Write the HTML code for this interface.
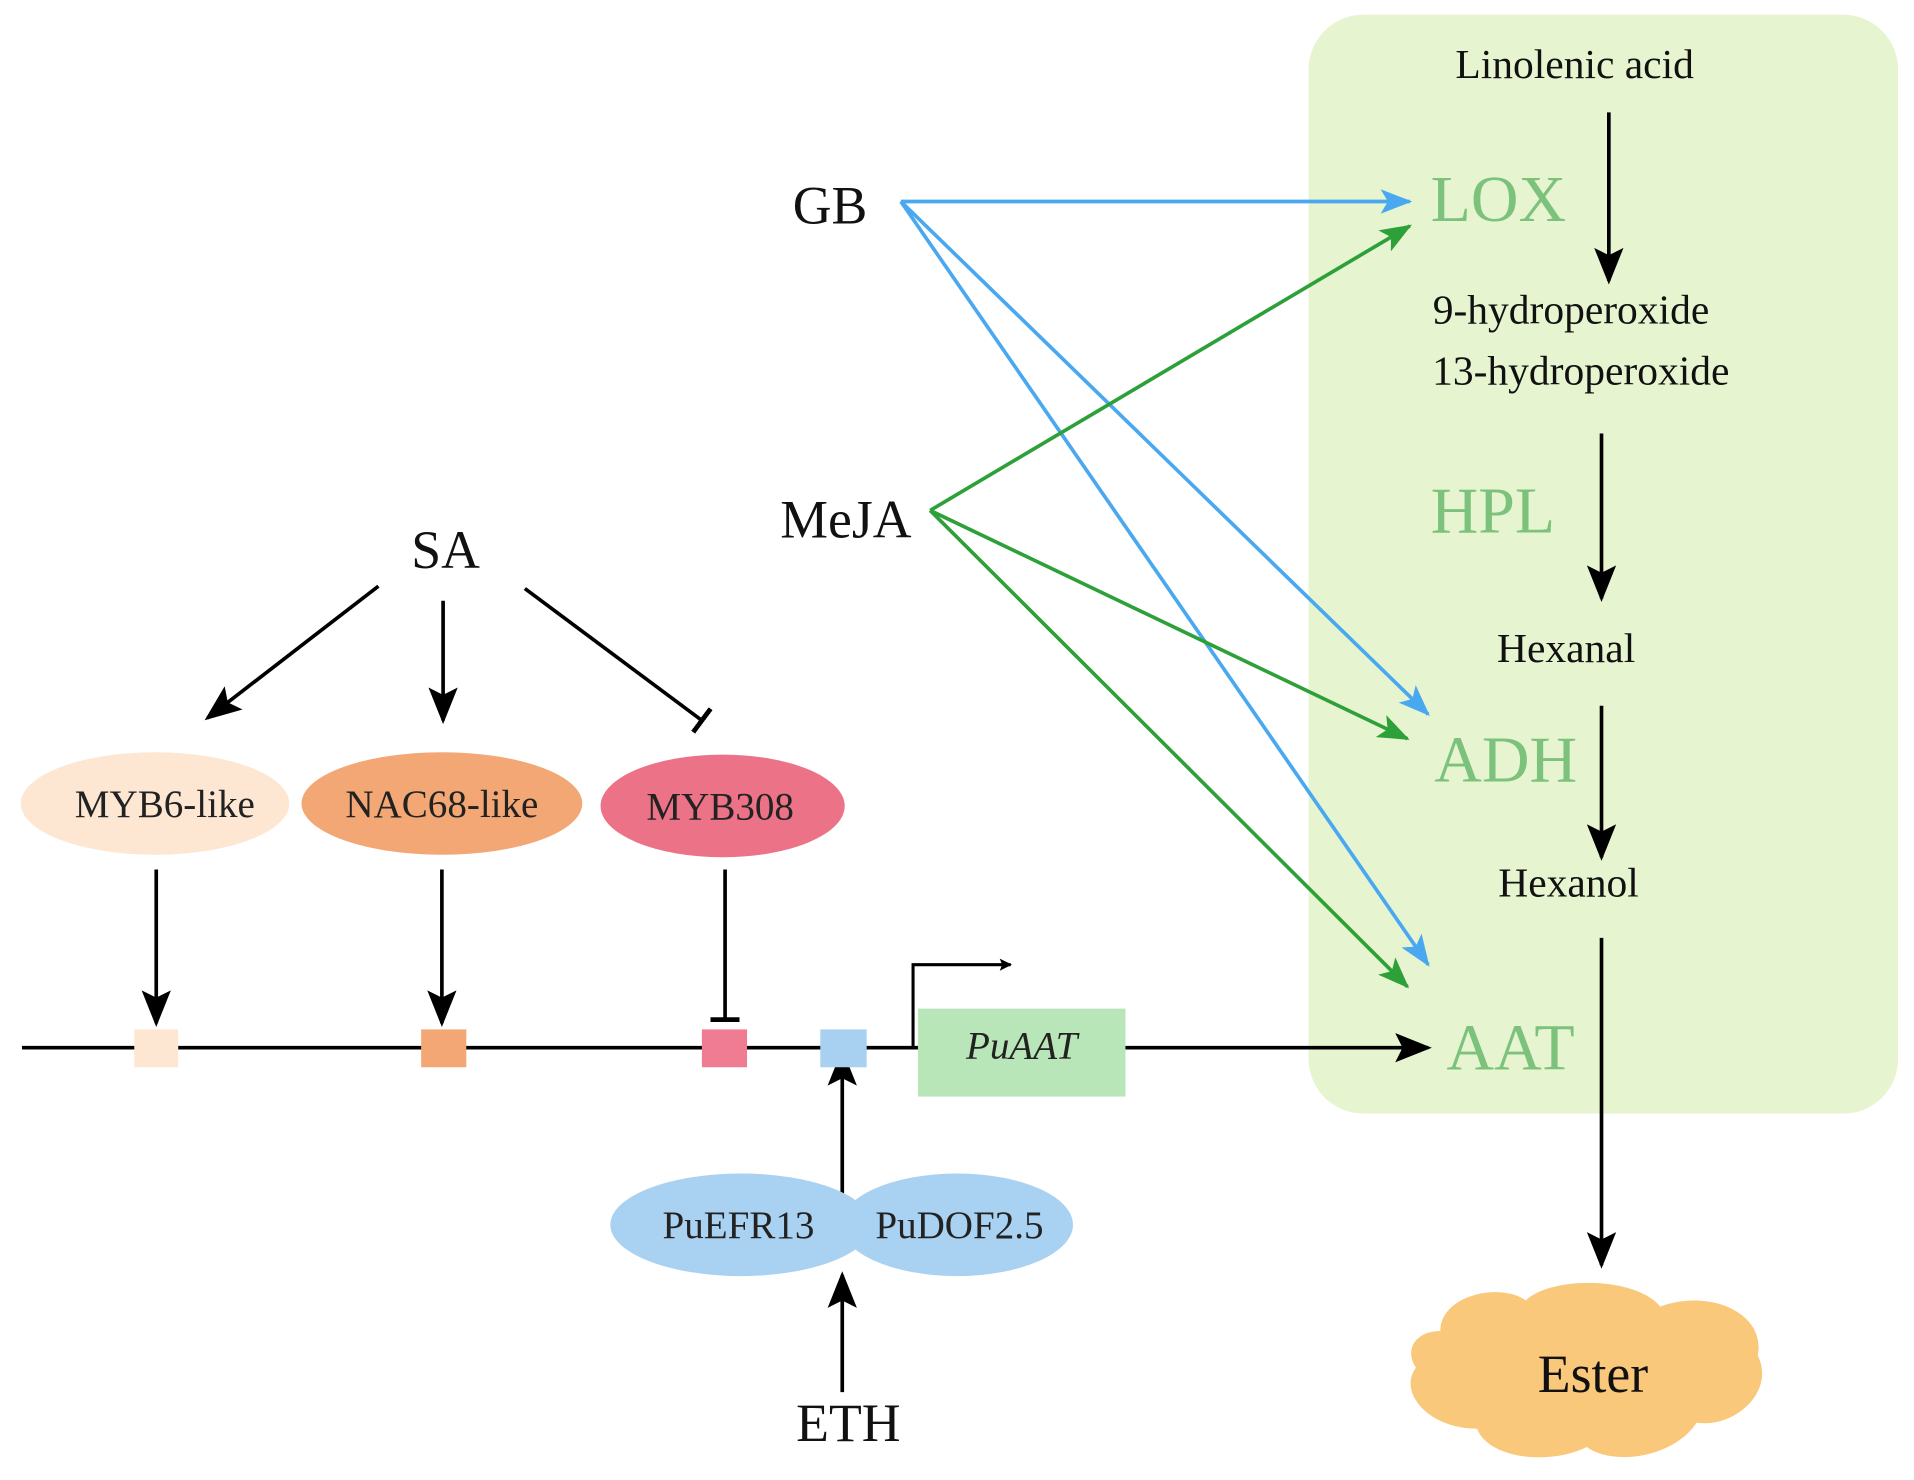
<!DOCTYPE html>
<html><head><meta charset="utf-8"><style>html,body{margin:0;padding:0;background:#fff}svg{display:block}</style></head>
<body>
<svg width="1914" height="1480" viewBox="0 0 1568 1212" preserveAspectRatio="none" xmlns="http://www.w3.org/2000/svg" font-family="Liberation Serif, serif">
<defs>
<marker id="ak" markerWidth="10" markerHeight="10" refX="9" refY="5" orient="auto" markerUnits="userSpaceOnUse" viewBox="0 0 10 10"><path d="M0,0 L10,5 L0,10 L2,5z" fill="#000"/></marker>
<marker id="ak2" markerWidth="30" markerHeight="30" refX="27" refY="15" orient="auto" markerUnits="userSpaceOnUse" viewBox="0 0 30 30"><path d="M0,3 L30,15 L0,27 L6,15z" fill="#000"/></marker>
<marker id="ab" markerWidth="26" markerHeight="26" refX="24" refY="13" orient="auto" markerUnits="userSpaceOnUse" viewBox="0 0 26 26"><path d="M0,3 L26,13 L0,23 L6,13z" fill="#4aa8f0"/></marker>
<marker id="ag" markerWidth="26" markerHeight="26" refX="24" refY="13" orient="auto" markerUnits="userSpaceOnUse" viewBox="0 0 26 26"><path d="M0,3 L26,13 L0,23 L6,13z" fill="#2ea03a"/></marker>
<marker id="tb" markerWidth="4" markerHeight="24" refX="2" refY="12" orient="auto" markerUnits="userSpaceOnUse" viewBox="0 0 4 24"><rect x="0" y="0" width="4" height="24" fill="#000"/></marker>
</defs>
<rect x="1072" y="12" width="483" height="900" rx="45" fill="#e6f5d0"/>
<g font-size="34" text-anchor="middle" fill="#111">
<text x="1290" y="64">Linolenic acid</text>
<text x="1287" y="265">9-hydroperoxide</text>
<text x="1295" y="315">13-hydroperoxide</text>
<text x="1283" y="542">Hexanal</text>
<text x="1285" y="734">Hexanol</text>
</g>
<g font-size="54" fill="#7cc27c">
<text x="1172" y="181">LOX</text>
<text x="1172" y="436">HPL</text>
<text x="1175" y="640">ADH</text>
<text x="1185" y="876">AAT</text>
</g>
<g stroke="#000" stroke-width="3" fill="none">
<line x1="1318" y1="92" x2="1318" y2="230" marker-end="url(#ak2)"/>
<line x1="1312" y1="355" x2="1312" y2="490" marker-end="url(#ak2)"/>
<line x1="1312" y1="578" x2="1312" y2="702" marker-end="url(#ak2)"/>
<line x1="1312" y1="768" x2="1312" y2="1036" marker-end="url(#ak2)"/>
</g>
<path d="M1180,1090 C1180,1060 1230,1050 1250,1065 C1270,1045 1340,1045 1360,1070 C1400,1055 1447,1075 1440,1110 C1455,1140 1420,1170 1390,1165 C1370,1195 1320,1200 1300,1185 C1270,1200 1220,1195 1210,1170 C1170,1170 1145,1140 1160,1120 C1150,1105 1160,1090 1180,1090z" fill="#f9c87a"/>
<text x="1305" y="1140" font-size="44" text-anchor="middle" fill="#111">Ester</text>
<text x="680" y="183" font-size="44" text-anchor="middle" fill="#111">GB</text>
<text x="693" y="440" font-size="44" text-anchor="middle" fill="#111">MeJA</text>
<g stroke="#4aa8f0" stroke-width="3" fill="none">
<line x1="738" y1="165" x2="1155" y2="165" marker-end="url(#ab)"/>
<line x1="738" y1="165" x2="1170" y2="585" marker-end="url(#ab)"/>
<line x1="738" y1="165" x2="1170" y2="790" marker-end="url(#ab)"/>
</g>
<g stroke="#2ea03a" stroke-width="3" fill="none">
<line x1="762" y1="418" x2="1155" y2="185" marker-end="url(#ag)"/>
<line x1="762" y1="418" x2="1153" y2="605" marker-end="url(#ag)"/>
<line x1="762" y1="418" x2="1153" y2="808" marker-end="url(#ag)"/>
</g>
<text x="365" y="465" font-size="44" text-anchor="middle" fill="#111">SA</text>
<g stroke="#000" stroke-width="3" fill="none">
<line x1="310" y1="480" x2="170" y2="588" marker-end="url(#ak2)"/>
<line x1="363" y1="492" x2="363" y2="590" marker-end="url(#ak2)"/>
<line x1="430" y1="482" x2="575" y2="590" marker-end="url(#tb)"/>
<line x1="128" y1="712" x2="128" y2="838" marker-end="url(#ak2)"/>
<line x1="362" y1="712" x2="362" y2="838" marker-end="url(#ak2)"/>
<line x1="594" y1="712" x2="594" y2="835" marker-end="url(#tb)"/>
<line x1="18" y1="858" x2="1170" y2="858" marker-end="url(#ak2)"/>
<line x1="690" y1="980" x2="690" y2="862" marker-end="url(#ak2)"/>
<line x1="690" y1="1140" x2="690" y2="1044" marker-end="url(#ak2)"/>
<path d="M748,858 L748,790 L828,790" stroke-width="2.5" marker-end="url(#ak)"/>
</g>
<ellipse cx="127" cy="658" rx="110" ry="42" fill="#fde7d2"/>
<ellipse cx="362" cy="658" rx="115" ry="42" fill="#f2a775"/>
<ellipse cx="592" cy="660" rx="100" ry="42" fill="#ec7288"/>
<g font-size="32" text-anchor="middle" fill="#222">
<text x="135" y="669">MYB6-like</text>
<text x="362" y="669">NAC68-like</text>
<text x="590" y="671">MYB308</text>
</g>
<rect x="110" y="843" width="36" height="31" fill="#fde7d2"/>
<rect x="345" y="843" width="37" height="31" fill="#f2a775"/>
<rect x="575" y="843" width="37" height="31" fill="#f07c94"/>
<rect x="672" y="843" width="38" height="31" fill="#a8d0f0"/>
<rect x="752" y="826" width="170" height="72" fill="#b8e6b8"/>
<text x="837" y="867" font-size="32" font-style="italic" text-anchor="middle" fill="#222">PuAAT</text>
<ellipse cx="607" cy="1003" rx="107" ry="42" fill="#a9d1f1"/>
<ellipse cx="784" cy="1003" rx="95" ry="42" fill="#a9d1f1"/>
<g font-size="32" text-anchor="middle" fill="#222">
<text x="605" y="1014">PuEFR13</text>
<text x="786" y="1014">PuDOF2.5</text>
</g>
<text x="695" y="1180" font-size="44" text-anchor="middle" fill="#111">ETH</text>
</svg>
</body></html>
